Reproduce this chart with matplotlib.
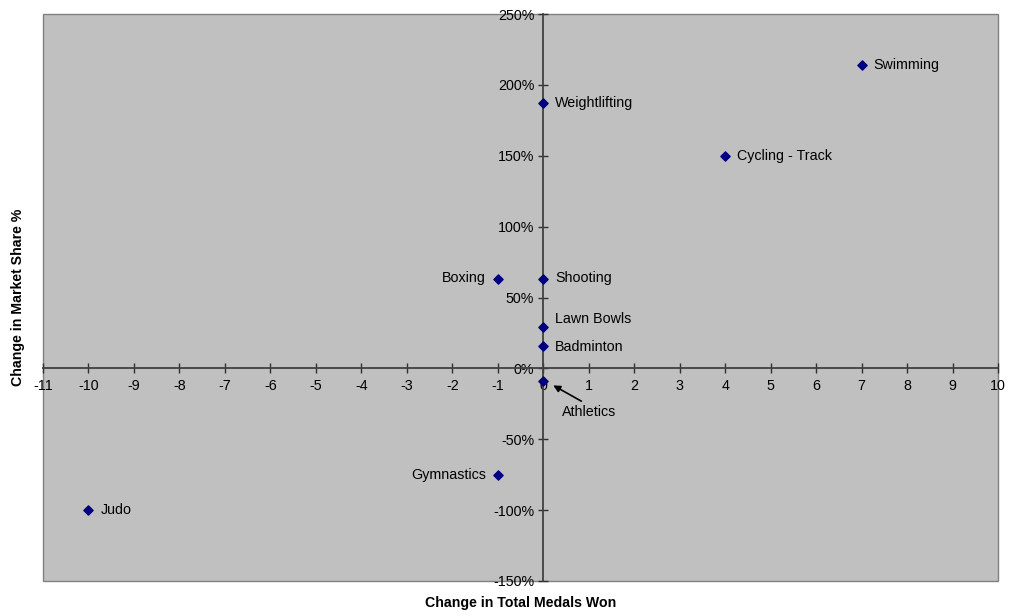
import matplotlib.pyplot as plt
from matplotlib.ticker import FuncFormatter, MultipleLocator
from matplotlib.patches import Rectangle

plt.rcParams['font.family'] = ['Liberation Sans', 'DejaVu Sans']
plt.rcParams['axes.unicode_minus'] = False

sports = ['Swimming', 'Weightlifting', 'Cycling - Track', 'Boxing', 'Shooting',
          'Lawn Bowls', 'Badminton', 'Athletics', 'Gymnastics', 'Judo']
medal_change = [7, 0, 4, -1, 0, 0, 0, 0, -1, -10]
share_change = [214, 187, 150, 63, 63, 29, 16, -9, -75, -100]

fig = plt.figure(figsize=(10.1, 6.16), dpi=100)
ax = fig.add_axes([43 / 1010, 35 / 616, 955 / 1010, 567 / 616])
ax.set_facecolor('#C0C0C0')

ax.scatter(medal_change, share_change, marker='D', s=22, color='#000080', zorder=3)

ax.set_xlim(-11, 10)
ax.set_ylim(-150, 250)
ax.xaxis.set_major_locator(MultipleLocator(1))
ax.yaxis.set_major_locator(MultipleLocator(50))
ax.yaxis.set_major_formatter(FuncFormatter(lambda v, p: '%d%%' % v))

# axes cross at the origin
for side in ['top', 'right']:
    ax.spines[side].set_visible(False)
ax.spines['left'].set_position(('data', 0))
ax.spines['bottom'].set_position(('data', 0))
for side in ['left', 'bottom']:
    ax.spines[side].set_color('#404040')
    ax.spines[side].set_linewidth(1.3)
ax.tick_params(direction='inout', length=7, width=1, color='#303030',
               labelsize=10.3, pad=3)
ax.tick_params(axis='x', pad=4)

# outer frame of the plot area
ax.add_patch(Rectangle((0, 0), 1, 1, transform=ax.transAxes, fill=False,
                       edgecolor='#808080', linewidth=1, zorder=0.5, clip_on=False))

# point labels (a couple nudged so they don't crowd)
nudge = {'Lawn Bowls': 6, 'Badminton': -1, 'Shooting': 1, 'Boxing': 1}
for name, x, y in zip(sports, medal_change, share_change):
    dy = nudge.get(name, 0)
    if name == 'Athletics':
        ax.annotate(name, xy=(0.22, -12), xytext=(1.0, -31), ha='center', va='center',
                    fontsize=10.3, arrowprops=dict(arrowstyle='-|>', color='black',
                                                   lw=1.2, mutation_scale=10,
                                                   relpos=(0.5, 1.0),
                                                   shrinkA=2, shrinkB=0))
    elif name in ('Boxing', 'Gymnastics'):
        ax.annotate(name, (x, y), xytext=(-8.5, dy), textcoords='offset points',
                    ha='right', va='center', fontsize=10.3)
    else:
        ax.annotate(name, (x, y), xytext=(8.5, dy), textcoords='offset points',
                    ha='left', va='center', fontsize=10.3)

fig.text(521 / 1010, 1 - 603 / 616, 'Change in Total Medals Won', ha='center',
         va='center', fontsize=10.2, fontweight='bold')
fig.text(18 / 1010, 1 - 297 / 616, 'Change in Market Share %', ha='center',
         va='center', rotation=90, fontsize=10.2, fontweight='bold')

plt.savefig('out.png', dpi=100)
